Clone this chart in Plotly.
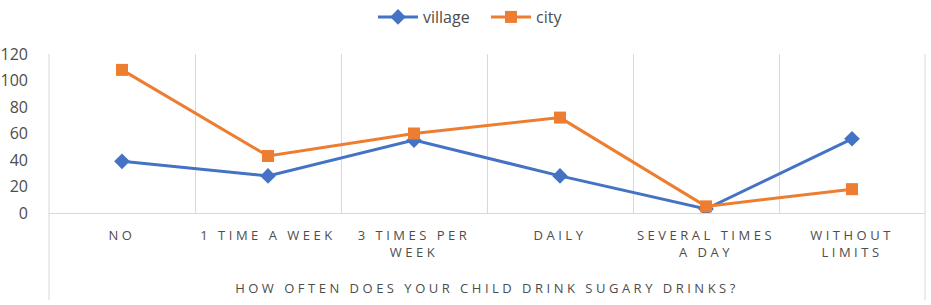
import plotly.graph_objects as go

categories = ["NO", "1 TIME A WEEK", "3 TIMES PER<br>WEEK", "DAILY", "SEVERAL TIMES<br>A DAY", "WITHOUT<br>LIMITS"]
village = [39, 28, 55, 28, 3, 56]
city = [108, 43, 60, 72, 5, 18]
y_ticks = [0, 20, 40, 60, 80, 100, 120]
x_title = "HOW OFTEN DOES YOUR CHILD DRINK SUGARY DRINKS?"

BLUE = "#4472C4"
ORANGE = "#ED7D31"
TXT = "#4D4D4D"
GRID = "#D9D9D9"
FONT = "Open Sans"

fig = go.Figure()
fig.add_trace(go.Scatter(x=categories, y=village, name="village", mode="lines+markers",
                         line=dict(color=BLUE, width=3),
                         marker=dict(symbol="diamond", size=12, color=BLUE)))
fig.add_trace(go.Scatter(x=categories, y=city, name="city", mode="lines+markers",
                         line=dict(color=ORANGE, width=3),
                         marker=dict(symbol="square", size=12, color=ORANGE)))

H_PLOT = 213 - 54
fig.add_shape(type="line", xref="paper", yref="paper", x0=0, x1=0, y0=1, y1=-(300 - 213) / H_PLOT,
              line=dict(color=GRID, width=1), layer="below")
fig.add_shape(type="line", xref="paper", yref="paper", x0=1, x1=1, y0=1, y1=-(300 - 213) / H_PLOT,
              line=dict(color=GRID, width=1), layer="below")

fig.update_layout(
    width=931, height=305,
    margin=dict(l=49, r=6, t=54, b=92),
    paper_bgcolor="white", plot_bgcolor="white",
    font=dict(family=FONT, color=TXT),
    showlegend=True,
    legend=dict(orientation="h", x=(379 - 6) / 931, xanchor="left", xref="container",
                y=1, yanchor="top", yref="container",
                font=dict(size=16, color=TXT, family=FONT), itemwidth=40,
                entrywidth=58, tracegroupgap=0),
    xaxis=dict(
        type="category", range=[-0.5, 5.5], tickson="boundaries",
        showgrid=True, gridcolor=GRID, gridwidth=1,
        showline=True, linecolor=GRID, linewidth=1,
        ticks="", tickfont=dict(size=13, color=TXT, family=FONT),
        ticklabelstandoff=10,
        title=dict(text=x_title, font=dict(size=13, color=TXT, family=FONT), standoff=24),
        automargin=False, fixedrange=True,
    ),
    yaxis=dict(
        range=[0, 120], tickvals=y_ticks, showgrid=False, zeroline=False, showline=False,
        ticks="", tickfont=dict(size=16, color=TXT, family=FONT),
        ticklabelstandoff=20, automargin=False, fixedrange=True,
    ),
)

post = """
document.body.style.margin = '0';
document.body.style.padding = '0';
var gd = document.getElementById('{plot_id}');
function sp(){
  gd.querySelectorAll('.xtick text, .g-xtitle text').forEach(function(t){ t.style.letterSpacing = '3.5px'; });
}
sp();
if (gd.on) { gd.on('plotly_afterplot', sp); }
"""
fig.write_html("out.html", post_script=post, config={"displayModeBar": False})
